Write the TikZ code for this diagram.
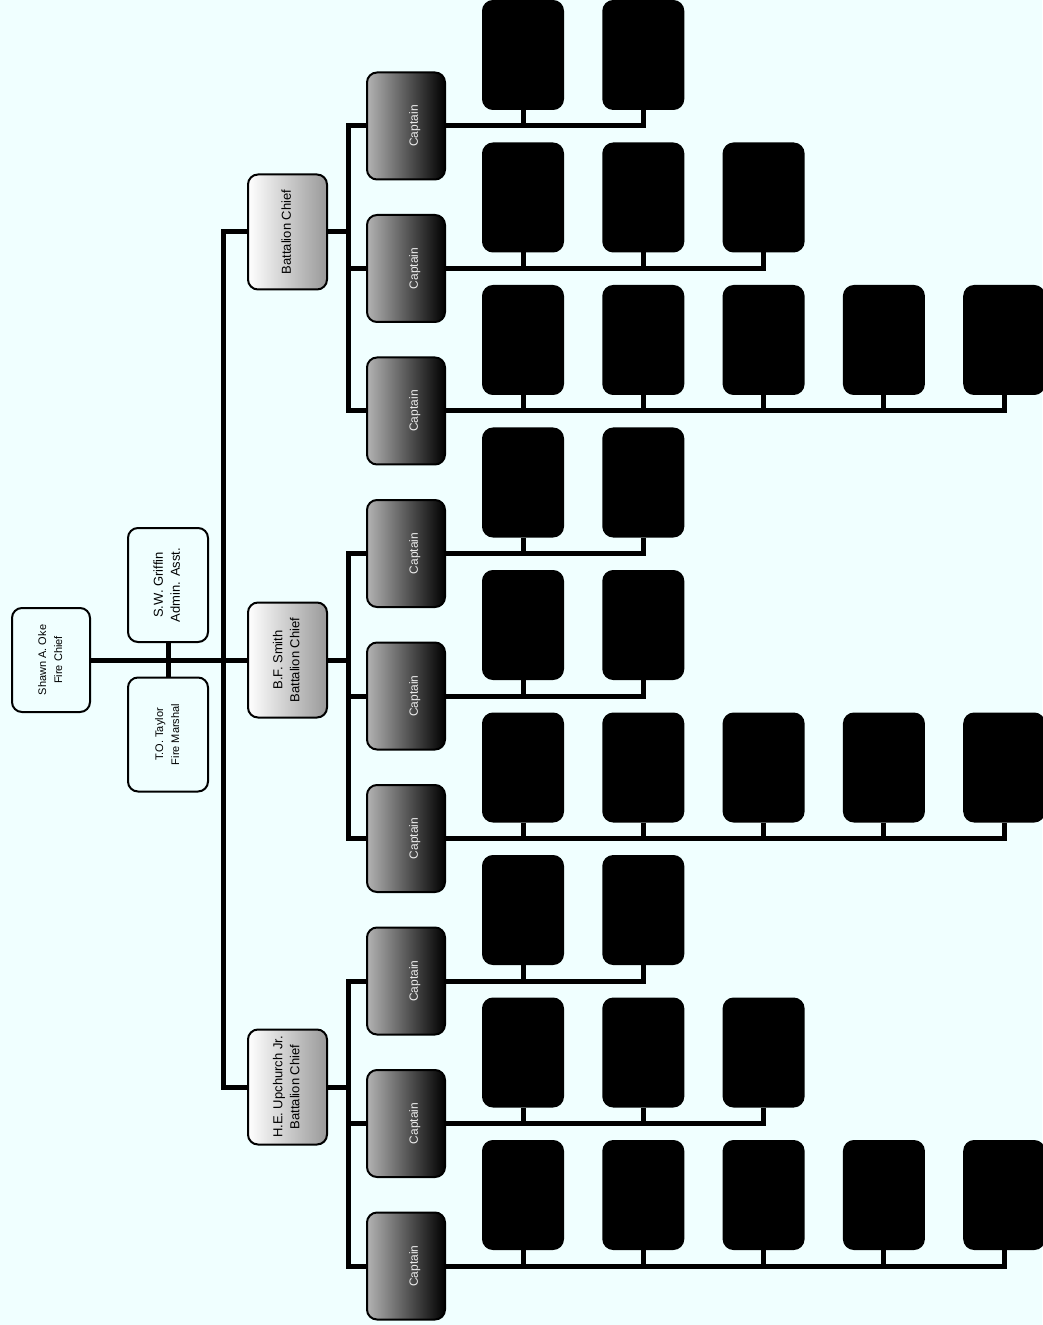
\documentclass[tikz,border=0pt]{standalone}
\usepackage{fontspec}
\setmainfont{Liberation Sans}
\usepackage{graphicx}
\usetikzlibrary{positioning,calc}
\definecolor{bgcyan}{RGB}{240,255,255}
\newcommand{\vtext}[1]{\rotatebox{90}{\begin{tabular}{@{}c@{}}#1\end{tabular}}}

\begin{document}
\begin{tikzpicture}[x=0.5pt,y=-0.5pt]
\tikzset{BoxStyle/.style = {draw, line width=1pt, rounded corners=5pt, inner sep=0pt, fill=bgcyan}}
\tikzset{StaffStyle/.style = {BoxStyle, minimum width=40pt, minimum height=57pt, font=\fontsize{5.5}{8}\selectfont}}
\tikzset{ChiefStyle/.style = {BoxStyle, minimum width=39.5pt, minimum height=57.5pt, left color=white, middle color=gray!40, right color=gray!80, font=\fontsize{6.5}{8.5}\selectfont}}
\tikzset{CaptStyle/.style = {BoxStyle, minimum width=39pt, minimum height=53.5pt, left color=gray!60, middle color=black!85, right color=black, text=white!85!gray, font=\fontsize{6}{8.5}\selectfont}}
\tikzset{CrewStyle/.style = {BoxStyle, fill=black, minimum width=40pt, minimum height=54pt}}
\tikzset{LinkStyle/.style = {line width=2.5pt}}
\fill[bgcyan] (0,0) rectangle (1042,1325);
\useasboundingbox (0,0) rectangle (1042,1325);
% top of the chart
\node[StaffStyle, minimum width=39pt, minimum height=52pt](chief) at (51,660) {\vtext{Shawn A. Oke\\Fire Chief}};
\node[StaffStyle, font=\fontsize{6.5}{8.5}\selectfont](admin) at (168,585) {\vtext{S.W. Griffin\\Admin. Asst.}};
\node[StaffStyle](marshal) at (168,734.5) {\vtext{T.O. Taylor\\Fire Marshal}};
\node[ChiefStyle](bcA) at (287.5,232) {\vtext{Battalion Chief}};
\node[ChiefStyle](bcB) at (287.5,660) {\vtext{B.F. Smith\\Battalion Chief}};
\node[ChiefStyle](bcC) at (287.5,1087) {\vtext{H.E. Upchurch Jr.\\Battalion Chief}};
\draw[LinkStyle](admin.south) -- (marshal.north);
\draw[LinkStyle](chief.east) -- (bcB.west);
\draw[LinkStyle](chief.east) -- ++(66pt,0) |- (bcA.west);
\draw[LinkStyle](chief.east) -- ++(66pt,0) |- (bcC.west);
% captains and their crews
\foreach \b/\n [count=\i from 0] in {A/2,A/3,A/5,B/2,B/2,B/5,C/2,C/3,C/5} {
  \pgfmathsetmacro{\cy}{126+142.5*\i}
  \node[CaptStyle](cap\i) at (406,\cy) {\vtext{~\\Captain}};
  \draw[LinkStyle](bc\b.east) -- ++(10pt,0) |- (cap\i.west);
  \foreach \j in {1,...,\n} {
    \pgfmathsetmacro{\fx}{523+120.3*(\j-1)}
    \node[CrewStyle](crew\i-\j) at (\fx,\cy-71) {};
    \draw[LinkStyle](cap\i.east) -| (crew\i-\j.south);
  }
}
\end{tikzpicture}
\end{document}
